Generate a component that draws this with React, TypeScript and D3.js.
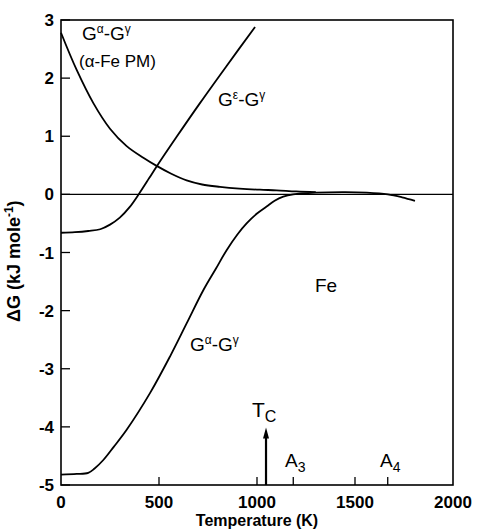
import { scaleLinear, line, curveCatmullRom } from "d3";

const WIDTH = 479;
const HEIGHT = 531;
const MARGIN = { top: 20, right: 26, bottom: 46, left: 61 };

// temperatures (K) and ΔG values (kJ/mol)
const pmTemp = [0, 80, 165, 250, 335, 420, 488, 560, 641, 720, 811, 910, 1015, 1100, 1200, 1300];
const pmDG = [2.78, 2.14, 1.57, 1.13, 0.83, 0.63, 0.49, 0.36, 0.24, 0.17, 0.13, 0.1, 0.08, 0.07, 0.05, 0.04];

const epsTemp = [0, 71, 139, 200, 250, 300, 350, 400, 450, 488, 590, 709, 845, 990];
const epsDG = [-0.66, -0.65, -0.63, -0.6, -0.52, -0.4, -0.22, 0.02, 0.28, 0.48, 0.99, 1.57, 2.21, 2.88];

const alphaTemp = [0, 80, 139, 170, 216, 270, 335, 454, 556, 641, 726, 790, 845, 900, 947, 1000, 1049, 1090, 1134, 1185, 1300, 1450, 1560, 1667, 1740, 1806];
const alphaDG = [-4.82, -4.81, -4.79, -4.72, -4.57, -4.34, -4.05, -3.42, -2.79, -2.22, -1.65, -1.28, -0.96, -0.69, -0.5, -0.33, -0.21, -0.11, -0.04, 0.0, 0.03, 0.04, 0.03, 0.0, -0.05, -0.11];

const xTicks = [0, 500, 1000, 1500, 2000];
const yTicks = [3, 2, 1, 0, -1, -2, -3, -4, -5];
const extraTicks = [1185, 1667];
const tcTemp = 1046;
const tcTop = -4.01;

const FONT = "'Liberation Sans', Arial, sans-serif";

export default function App() {
  const x = scaleLinear().domain([0, 2000]).range([MARGIN.left, WIDTH - MARGIN.right]);
  const y = scaleLinear().domain([-5, 3]).range([HEIGHT - MARGIN.bottom, MARGIN.top]);

  const path = (ts: number[], vs: number[]) =>
    line<number>()
      .x((_, i) => x(ts[i]))
      .y((v) => y(v))
      .curve(curveCatmullRom.alpha(0.5))(vs) ?? "";

  const x0 = x(0);
  const x1 = x(2000);
  const y0 = y(-5);
  const y1 = y(3);
  const tcX = x(tcTemp);
  const tcY = y(tcTop);

  return (
    <svg
      width={WIDTH}
      height={HEIGHT}
      style={{ position: "absolute", left: 0, top: 0, background: "#fff" }}
      fontFamily={FONT}
    >
      {/* frame */}
      <rect x={x0} y={y1} width={x1 - x0} height={y0 - y1} fill="none" stroke="#000" strokeWidth={1.6} />
      {/* zero line */}
      <line x1={x0} x2={x1} y1={y(0)} y2={y(0)} stroke="#000" strokeWidth={1.4} />

      {yTicks.map((t) => (
        <g key={t}>
          <line x1={x0} x2={x0 + 9} y1={y(t)} y2={y(t)} stroke="#000" strokeWidth={1.3} />
          <text x={x0 - 7} y={y(t) + 6} textAnchor="end" fontSize={17} fontWeight="bold">
            {t}
          </text>
        </g>
      ))}
      {xTicks.map((t) => (
        <g key={t}>
          {t > 0 && t < 2000 && (
            <line x1={x(t)} x2={x(t)} y1={y0} y2={y0 - 8} stroke="#000" strokeWidth={1.3} />
          )}
          <text x={x(t)} y={y0 + 23} textAnchor="middle" fontSize={17} fontWeight="bold">
            {t}
          </text>
        </g>
      ))}
      {extraTicks.map((t) => (
        <line key={t} x1={x(t)} x2={x(t)} y1={y0} y2={y0 - 8} stroke="#000" strokeWidth={1.3} />
      ))}

      {/* Tc arrow */}
      <line x1={tcX} x2={tcX} y1={y0} y2={tcY + 8} stroke="#000" strokeWidth={2.2} />
      <path d={`M${tcX},${tcY} L${tcX - 3},${tcY + 11} L${tcX + 3},${tcY + 11} Z`} fill="#000" />

      <path d={path(pmTemp, pmDG)} fill="none" stroke="#000" strokeWidth={1.8} />
      <path d={path(epsTemp, epsDG)} fill="none" stroke="#000" strokeWidth={1.8} />
      <path d={path(alphaTemp, alphaDG)} fill="none" stroke="#000" strokeWidth={1.8} />

      {/* annotations */}
      <text x={82} y={40} fontSize={19}>
        G<tspan dy={-7} fontSize={12}>α</tspan>
        <tspan dy={7}>-G</tspan>
        <tspan dy={-7} fontSize={12}>γ</tspan>
      </text>
      <text x={79} y={67} fontSize={17}>(α-Fe PM)</text>
      <text x={218} y={106} fontSize={19}>
        G<tspan dy={-7} fontSize={12}>ε</tspan>
        <tspan dy={7}>-G</tspan>
        <tspan dy={-7} fontSize={12}>γ</tspan>
      </text>
      <text x={315} y={292} fontSize={19}>Fe</text>
      <text x={190} y={351} fontSize={19}>
        G<tspan dy={-7} fontSize={12}>α</tspan>
        <tspan dy={7}>-G</tspan>
        <tspan dy={-7} fontSize={12}>γ</tspan>
      </text>
      <text x={252} y={417} fontSize={21}>
        T<tspan dy={5} fontSize={16}>C</tspan>
      </text>
      <text x={285} y={467} fontSize={19}>
        A<tspan dy={5} fontSize={14}>3</tspan>
      </text>
      <text x={380} y={467} fontSize={19}>
        A<tspan dy={5} fontSize={14}>4</tspan>
      </text>

      <text x={(x0 + x1) / 2} y={526} textAnchor="middle" fontSize={16} fontWeight="bold">
        Temperature (K)
      </text>
      <text
        transform={`translate(20, ${y(-1.15)}) rotate(-90)`}
        textAnchor="middle"
        fontSize={18}
        fontWeight="bold"
      >
        ΔG (kJ mole<tspan dy={-7} fontSize={12}>-1</tspan>
        <tspan dy={7}>)</tspan>
      </text>
    </svg>
  );
}
